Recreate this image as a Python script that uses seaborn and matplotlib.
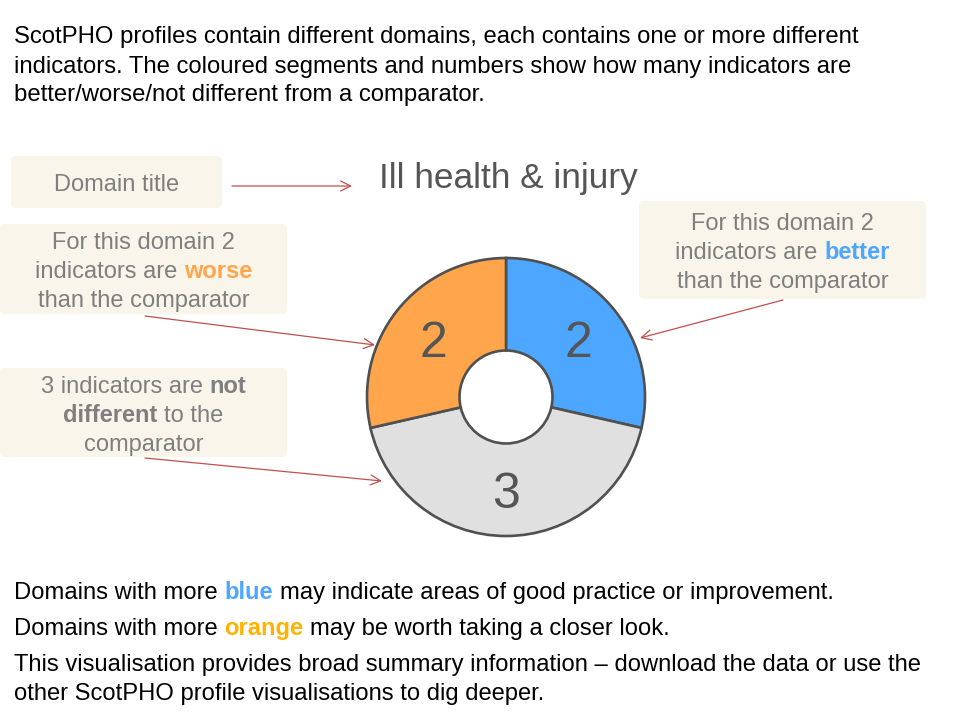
import matplotlib
matplotlib.use("Agg")
import matplotlib.pyplot as plt
import seaborn as sns
from matplotlib.patches import FancyBboxPatch

# ---------------- data ----------------
domain_title = "Ill health & injury"
categories = ["better", "not different", "worse"]
counts = [2, 3, 2]
seg_colors = ["#4da6ff", "#e0e0e0", "#ffa64d"]

intro_lines = [
    "ScotPHO profiles contain different domains, each contains one or more different",
    "indicators. The coloured segments and numbers show how many indicators are",
    "better/worse/not different from a comparator.",
]
box_domain = [[("Domain title", None)]]
box_worse = [
    [("For this domain 2", None)],
    [("indicators are", None), ("worse", "worse")],
    [("than the comparator", None)],
]
box_better = [
    [("For this domain 2", None)],
    [("indicators are", None), ("better", "better")],
    [("than the comparator", None)],
]
box_same = [
    [("3 indicators are", None), ("not", "same")],
    [("different", "same"), ("to the", None)],
    [("comparator", None)],
]
outro_lines = [
    [("Domains with more", None), ("blue", "blue"), ("may indicate areas of good practice or improvement.", None)],
    [("Domains with more", None), ("orange", "orange"), ("may be worth taking a closer look.", None)],
    [("This visualisation provides broad summary information \u2013 download the data or use the", None)],
    [("other ScotPHO profile visualisations to dig deeper.", None)],
]

# ---------------- style ----------------
sns.set_theme(style="white")
plt.rcParams['font.family'] = ['Liberation Sans', 'DejaVu Sans']

GREY_TXT = "#7f7f7f"
BOX_FC = "#faf5ea"
ARROW_C = "#c0504d"
styles = {
    None: dict(color=GREY_TXT, fontweight="normal"),
    "worse": dict(color="#ffa64d", fontweight="bold"),
    "better": dict(color="#4da6ff", fontweight="bold"),
    "same": dict(color=GREY_TXT, fontweight="bold"),
}
out_styles = {
    None: dict(color="black", fontweight="normal"),
    "blue": dict(color="#4da6ff", fontweight="bold"),
    "orange": dict(color="#ffb300", fontweight="bold"),
}

H = 720
def Y(y):
    return H - y

fig = plt.figure(figsize=(9.6, 7.2), dpi=100)
ax = fig.add_axes([0, 0, 1, 1])

palette = sns.color_palette(seg_colors)
total = sum(counts)
wedges, texts, autotexts = ax.pie(
    counts, colors=palette, startangle=90, counterclock=False,
    center=(506, Y(397)), radius=139,
    wedgeprops=dict(width=92.5, edgecolor="#505050", linewidth=1.9),
    autopct=lambda p: f"{p * total / 100:.0f}", pctdistance=0.667,
    textprops=dict(fontsize=36, color="#555555"),
)
for t in autotexts:
    t.set_va("center_baseline")
ax.set_xlim(0, 960)
ax.set_ylim(0, 720)
ax.axis("off")

renderer = fig.canvas.get_renderer()

def text_width(s, size, weight):
    t = ax.text(0, 0, s, fontsize=size, fontweight=weight)
    w = t.get_window_extent(renderer).width
    t.remove()
    return w

def draw_line(segs, x, baseline, size, style_map, align="center"):
    space = text_width("x x", size, "normal") - text_width("xx", size, "normal")
    widths = [text_width(s, size, style_map[k]["fontweight"]) for s, k in segs]
    tot = sum(widths) + space * (len(segs) - 1)
    cx = x - tot / 2 if align == "center" else x
    for (s, k), w in zip(segs, widths):
        ax.text(cx, Y(baseline), s, fontsize=size, ha="left", va="baseline", **style_map[k])
        cx += w + space

def box(x0, y0, x1, y1):
    ax.add_patch(FancyBboxPatch((x0, Y(y1)), x1 - x0, y1 - y0,
                                boxstyle="round,pad=0,rounding_size=5",
                                fc=BOX_FC, ec="none", zorder=0))

def arrow(start, tip):
    ax.annotate("", xy=(tip[0], Y(tip[1])), xytext=(start[0], Y(start[1])),
                arrowprops=dict(arrowstyle="->,head_length=0.6,head_width=0.3",
                                color=ARROW_C, lw=0.9, shrinkA=0, shrinkB=0))

# intro paragraph
for i, line in enumerate(intro_lines):
    ax.text(14, Y(43.5 + 29 * i), line, fontsize=17.2, color="black", ha="left", va="baseline")

# domain title
ax.text(508, Y(188), domain_title, ha="center", va="baseline", fontsize=25.4, color="#555555")

# boxes
BOX_FS = 17
box(11, 156, 222, 208)
draw_line(box_domain[0], 117, 191, BOX_FS, styles)
arrow((232, 186), (352, 186))

box(0, 224, 287, 314)
for i, segs in enumerate(box_worse):
    draw_line(segs, 143.5, 249 + 29 * i, BOX_FS, styles)
arrow((145, 316), (375, 345))

box(0, 368, 287, 457)
for i, segs in enumerate(box_same):
    draw_line(segs, 143.5, 393 + 29 * i, BOX_FS, styles)
arrow((145, 458), (382, 481))

box(639, 201, 926, 299)
for i, segs in enumerate(box_better):
    draw_line(segs, 782.5, 230 + 29 * i, BOX_FS, styles)
arrow((783, 300), (640, 338))

# outro paragraph
out_baselines = [599, 635, 671.5, 700]
for segs, b in zip(outro_lines, out_baselines):
    draw_line(segs, 14, b, 17.1, out_styles, align="left")

fig.savefig("out.png", dpi=100)
